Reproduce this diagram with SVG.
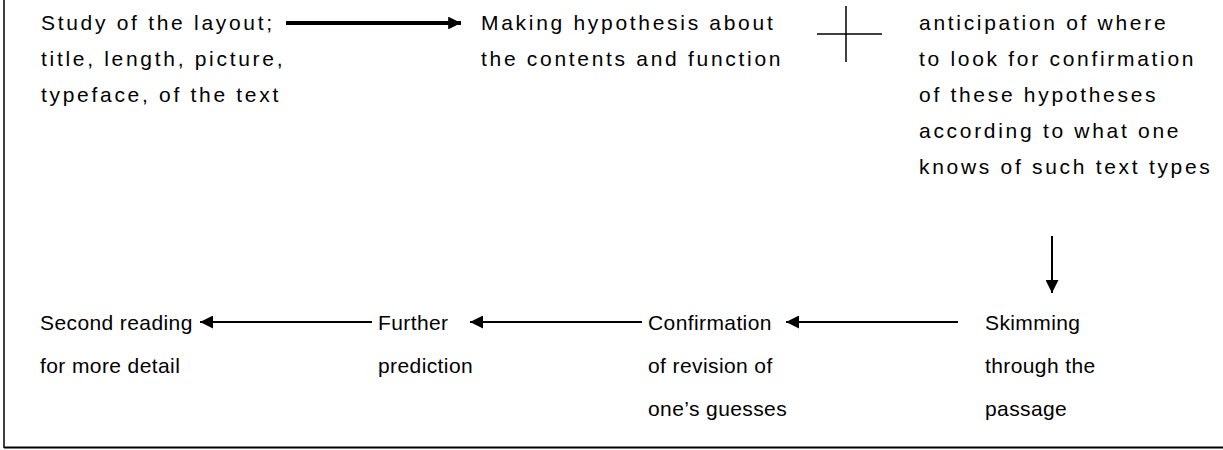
<svg xmlns="http://www.w3.org/2000/svg" width="1223" height="450" viewBox="0 0 1223 450">
<defs>
<style>
text{font-family:"Liberation Sans",Arial,sans-serif;font-size:21px;fill:#000}
.top text{letter-spacing:2.7px}
.bot text{letter-spacing:0.4px}
.ln{stroke:#000;fill:none}
</style>
<marker id="ahBig" viewBox="0 0 10 10" refX="10" refY="5" markerWidth="3.4" markerHeight="3.2" markerUnits="strokeWidth" orient="auto"><path d="M0,0 L10,5 L0,10 Z" fill="#000"/></marker>
<marker id="ah" viewBox="0 0 10 10" refX="10" refY="5" markerWidth="7.5" markerHeight="6.5" markerUnits="strokeWidth" orient="auto"><path d="M0,0 L10,5 L0,10 Z" fill="#000"/></marker>
</defs>
<rect width="1223" height="450" fill="#fff"/>
<g id="frame">
<line class="ln" x1="4" y1="0" x2="4" y2="448" stroke-width="1.5"/>
<line class="ln" x1="4" y1="447.5" x2="1223" y2="447.5" stroke-width="2" stroke="#222"/>
</g>
<g id="node-layout" class="top"><text x="41" y="30">Study of the layout;</text><text x="41" y="66">title, length, picture,</text><text x="41" y="102">typeface, of the text</text></g>
<g id="node-hypothesis" class="top"><text x="481" y="30">Making hypothesis about</text><text x="481" y="66">the contents and function</text></g>
<g id="node-plus"><line class="ln" x1="846" y1="6" x2="846" y2="62" stroke-width="1.5"/><line class="ln" x1="817" y1="34" x2="882" y2="34" stroke-width="1.5"/></g>
<g id="node-anticipation" class="top"><text x="919" y="30">anticipation of where</text><text x="919" y="66">to look for confirmation</text><text x="919" y="102">of these hypotheses</text><text x="919" y="138">according to what one</text><text x="919" y="174">knows of such text types</text></g>
<g id="node-skimming" class="bot"><text x="985" y="329.5">Skimming</text><text x="985" y="372.5">through the</text><text x="985" y="416">passage</text></g>
<g id="node-confirmation" class="bot"><text x="648" y="329.5">Confirmation</text><text x="648" y="372.5">of revision of</text><text x="648" y="416">one’s guesses</text></g>
<g id="node-further" class="bot"><text x="378" y="329.5">Further</text><text x="378" y="372.5">prediction</text></g>
<g id="node-second" class="bot"><text x="40" y="329.5">Second reading</text><text x="40" y="372.5">for more detail</text></g>
<g id="connectors">
<line class="ln" x1="286" y1="23" x2="461" y2="23" stroke-width="4" marker-end="url(#ahBig)"/>
<line class="ln" x1="1052" y1="236" x2="1052" y2="293" stroke-width="2" marker-end="url(#ah)"/>
<line class="ln" x1="958" y1="322" x2="786" y2="322" stroke-width="2" marker-end="url(#ah)"/>
<line class="ln" x1="642" y1="322" x2="470" y2="322" stroke-width="2" marker-end="url(#ah)"/>
<line class="ln" x1="372" y1="322" x2="200" y2="322" stroke-width="2" marker-end="url(#ah)"/>
</g>
</svg>
